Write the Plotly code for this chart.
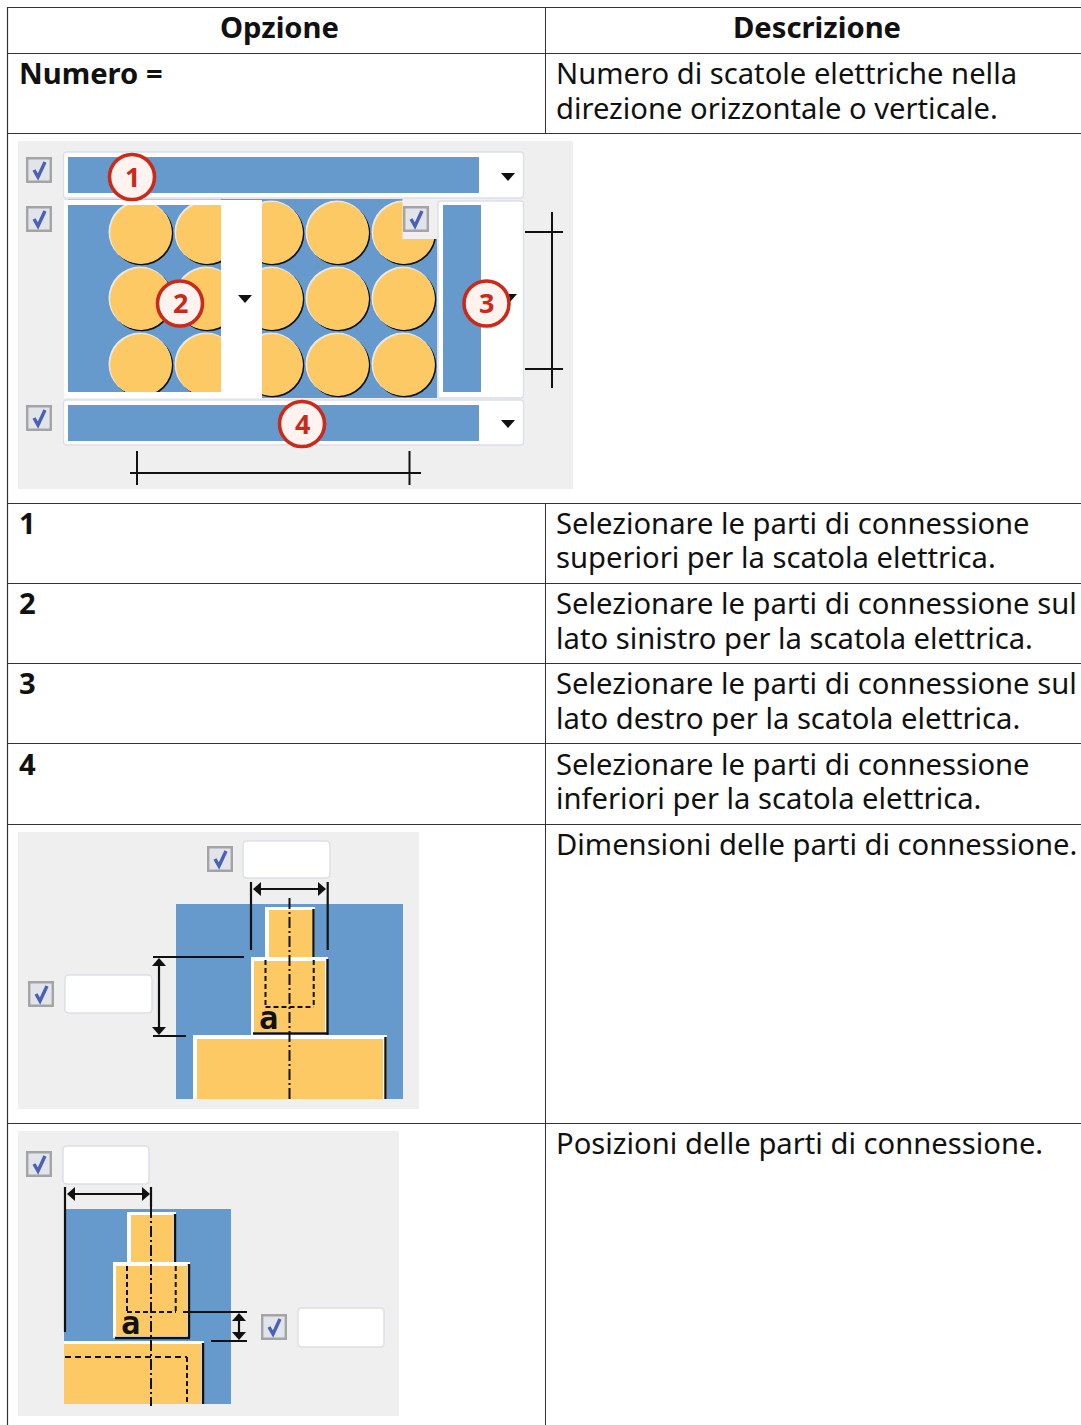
import plotly.graph_objects as go

WIDTH, HEIGHT = 1081, 1425
FONT = "Noto Sans"
FS = 29.2

# ---- text ----
header_labels = ["Opzione", "Descrizione"]
header_x = [279, 817]
header_y = 27
option_labels = ["Numero =", "1", "2", "3", "4"]
option_y = [73, 523, 603, 683, 764]
desc_lines = [
    ("Numero di scatole elettriche nella", 73),
    ("direzione orizzontale o verticale.", 107.5),
    ("Selezionare le parti di connessione", 523),
    ("superiori per la scatola elettrica.", 557),
    ("Selezionare le parti di connessione sul", 603),
    ("lato sinistro per la scatola elettrica.", 638),
    ("Selezionare le parti di connessione sul", 683),
    ("lato destro per la scatola elettrica.", 718),
    ("Selezionare le parti di connessione", 764),
    ("inferiori per la scatola elettrica.", 798),
    ("Dimensioni delle parti di connessione.", 844),
    ("Posizioni delle parti di connessione.", 1143),
]

# ---- table grid ----
row_lines = [7.5, 53.5, 133.5, 503.5, 583.5, 663.5, 743.5, 824.5, 1123.5]
col_left = 7.5
col_split = 545.5
split_spans = [(7.5, 133.5), (503.5, 1425)]

# ---- colours ----
BLUE = "#6699cc"
ORANGE = "#fdc964"
GREY = "#efefef"
RED = "#c92a1a"
LINE = "#333333"

# ---- figure 1 ----
circle_cols = [141, 207, 272, 338, 404]
circle_rows = [233, 299, 365]
circle_r = 31.5
callouts = [("1", 132, 177), ("2", 180, 303.5), ("3", 486.5, 303.5), ("4", 302, 424)]
carets_1 = [(508, 177), (245, 299), (510, 298), (508, 424)]
checks_1 = [(26, 157), (26, 206), (26, 405)]

# ---- figure 2 ----
checks_2 = [(207, 846), (28, 981)]
inputs_2 = [(243, 841, 330, 878), (65, 975, 152, 1013)]
# ---- figure 3 ----
checks_3 = [(26, 1151), (261, 1314)]
inputs_3 = [(63, 1146, 149, 1184), (298, 1308, 384, 1347)]

shapes = []
annots = []


def rect(x0, y0, x1, y1, fill, line=None, lw=1):
    shapes.append(dict(type="rect", x0=x0, y0=y0, x1=x1, y1=y1, fillcolor=fill,
                       line=dict(color=line or fill, width=lw if line else 0)))


def seg(x0, y0, x1, y1, color="#111111", w=2.2, dash=None):
    ln = dict(color=color, width=w)
    if dash:
        ln["dash"] = dash
    shapes.append(dict(type="line", x0=x0, y0=y0, x1=x1, y1=y1, line=ln))


def poly(pts, fill, line=None, lw=0):
    d = "M" + " L".join(f"{x},{y}" for x, y in pts) + " Z"
    shapes.append(dict(type="path", path=d, fillcolor=fill,
                       line=dict(color=line or fill, width=lw)))


def rrect(x0, y0, x1, y1, r=3, fill="white", line="#dcdfe8", lw=1.4):
    d = (f"M{x0+r},{y0} L{x1-r},{y0} Q{x1},{y0} {x1},{y0+r} L{x1},{y1-r} Q{x1},{y1} {x1-r},{y1} "
         f"L{x0+r},{y1} Q{x0},{y1} {x0},{y1-r} L{x0},{y0+r} Q{x0},{y0} {x0+r},{y0} Z")
    shapes.append(dict(type="path", path=d, fillcolor=fill, line=dict(color=line, width=lw)))


def circle(cx, cy, r, fill, line=None, lw=0):
    shapes.append(dict(type="circle", x0=cx-r, y0=cy-r, x1=cx+r, y1=cy+r, fillcolor=fill,
                       line=dict(color=line or fill, width=lw)))


def checkbox(x, y, s=26):
    rect(x+1.2, y+1.2, x+s-1.2, y+s-1.2, "#e2e4ec", "#a4a4a4", 2.4)
    shapes.append(dict(type="path",
                       path=f"M{x+8},{y+13} L{x+12},{y+20} L{x+19},{y+5}",
                       line=dict(color="#4a62b4", width=3.4)))


def caret(cx, cy):
    poly([(cx-7, cy-4), (cx+7, cy-4), (cx, cy+4)], "#111111")


def arrow_h(x0, x1, y):
    seg(x0+4, y, x1-4, y, w=2.2)
    poly([(x0, y), (x0+8, y-7), (x0+8, y+7)], "#111111")
    poly([(x1, y), (x1-8, y-7), (x1-8, y+7)], "#111111")


def arrow_v(x, y0, y1):
    seg(x, y0+4, x, y1-4, w=2.2)
    poly([(x, y0), (x-7, y0+8), (x+7, y0+8)], "#111111")
    poly([(x, y1), (x-7, y1-8), (x+7, y1-8)], "#111111")


def step(white, orange, right_x, bottom=None):
    rect(*white, "white")
    rect(*orange, ORANGE)
    seg(right_x, white[1]+2, right_x, white[3], w=2.4)
    if bottom:
        seg(bottom[0], bottom[2], bottom[1], bottom[2], w=2.4)


# ---- grid ----
for y in row_lines:
    seg(col_left, y, WIDTH, y, LINE, 1.2)
seg(col_left, 7, col_left, HEIGHT, LINE, 1.2)
for y0, y1 in split_spans:
    seg(col_split, y0, col_split, y1, LINE, 1)

# ---- figure 1 ----
rect(18, 141, 573, 489, GREY)
rrect(63.5, 152, 523.5, 198)
rrect(438, 201, 523.5, 398)
rrect(63.5, 400, 523.5, 445)
rect(68, 157, 479, 193, BLUE)
rect(68, 405, 479, 441, BLUE)
rect(443, 205, 481, 392, BLUE)
rect(64, 199, 437, 398, BLUE)
for cy in circle_rows:
    for cx in circle_cols:
        circle(cx+0.8, cy+0.8, circle_r, "#111111")
        circle(cx-1, cy-1, circle_r, "#e8e8e8")
        circle(cx, cy, circle_r-0.6, ORANGE)
# dropdown 2 frame drawn over the circles
rect(221, 200, 262, 398, "white")
rect(64, 199.5, 221, 205, "white")
rect(64, 392, 221, 398, "white")
rect(64, 199.5, 68, 398, "white")
rect(402.5, 199, 437, 239, GREY)
for c in carets_1:
    caret(*c)
for c in checks_1:
    checkbox(*c)
checkbox(403, 206)
# dimension lines
seg(552, 212, 552, 388, w=2)
seg(525, 232, 563, 232, w=2)
seg(525, 369, 563, 369, w=2)
seg(130, 473, 421, 473, w=2)
seg(137, 451, 137, 485, w=2)
seg(409.5, 451, 409.5, 485, w=2)
for t, cx, cy in callouts:
    circle(cx, cy, 22.5, "#fff3ef", RED, 3.6)
    annots.append(dict(text=f"<b>{t}</b>", x=cx, y=cy-1, size=27, color=RED, xanchor="center"))

# ---- figure 2 ----
rect(18, 832, 419, 1109, GREY)
rect(176, 904, 403, 1099, BLUE)
step((265, 907, 315, 958), (269, 910, 312, 958), 313.5)
step((251, 957, 328, 1035), (254, 961, 325, 1032), 327.5, (253, 328, 1033.5))
step((193, 1035, 387, 1099), (197, 1039, 383, 1099), 385.5)
seg(265.5, 960, 265.5, 1007, w=2, dash="5px,3px")
seg(313.7, 960, 313.7, 1007, w=2, dash="5px,3px")
seg(265.5, 1007, 313.7, 1007, w=2, dash="5px,3px")
seg(289.5, 898, 289.5, 1101, w=2, dash="11px,3px,2px,3px")
seg(251, 882, 251, 950)
seg(327.7, 882, 327.7, 950)
arrow_h(253, 326, 889)
seg(153, 957, 244, 957)
seg(153, 1036, 186, 1036)
arrow_v(159, 958, 1035)
for c in checks_2:
    checkbox(*c)
for b in inputs_2:
    rrect(*b, r=4)
annots.append(dict(text="<b>a</b>", x=268, y=1018, size=32, color="#111111", xanchor="center",
                   family="DejaVu Sans Mono"))

# ---- figure 3 ----
rect(18, 1131, 399, 1416, GREY)
rect(64, 1209, 231, 1404, BLUE)
step((127, 1212, 176, 1262), (131, 1215, 173, 1262), 175)
step((113, 1262, 190, 1338), (116, 1266, 187, 1336), 189, (115, 190, 1338))
step((64, 1341, 204, 1404), (64, 1344, 201, 1404), 203)
seg(127, 1266, 127, 1312, w=2, dash="5px,3px")
seg(175.7, 1266, 175.7, 1312, w=2, dash="5px,3px")
seg(127, 1312, 176, 1312, w=2, dash="5px,3px")
seg(65, 1357, 187, 1357, w=2, dash="6px,4px")
seg(187, 1357, 187, 1403, w=2, dash="5px,3px")
seg(151, 1207, 151, 1406, w=2, dash="11px,3px,2px,3px")
seg(151, 1187, 151, 1207)
seg(65, 1187, 65, 1332)
arrow_h(67, 150, 1194)
seg(183, 1312, 247, 1312)
seg(211, 1341, 247, 1341)
arrow_v(239, 1313, 1340)
for c in checks_3:
    checkbox(*c)
for b in inputs_3:
    rrect(*b, r=4)
annots.append(dict(text="<b>a</b>", x=130, y=1323, size=32, color="#111111", xanchor="center",
                   family="DejaVu Sans Mono"))

# ---- table text ----
for t, x in zip(header_labels, header_x):
    annots.append(dict(text=f"<b>{t}</b>", x=x, y=header_y, size=FS, color="#111111", xanchor="center"))
for t, y in zip(option_labels, option_y):
    annots.append(dict(text=f"<b>{t}</b>", x=18.5, y=y, size=FS, color="#111111", xanchor="left"))
for t, y in desc_lines:
    annots.append(dict(text=t, x=556, y=y, size=FS, color="#111111", xanchor="left"))

annotations = [
    dict(text=a["text"], x=a["x"], y=a["y"], xref="x", yref="y", showarrow=False,
         xanchor=a["xanchor"], yanchor="middle", borderpad=0, borderwidth=0,
         font=dict(family=a.get("family", FONT), size=a["size"], color=a["color"]))
    for a in annots
]

fig = go.Figure()
fig.update_layout(
    width=WIDTH, height=HEIGHT, margin=dict(l=0, r=0, t=0, b=0),
    paper_bgcolor="white", plot_bgcolor="white", showlegend=False,
    xaxis=dict(range=[0, WIDTH], visible=False, fixedrange=True),
    yaxis=dict(range=[HEIGHT, 0], visible=False, fixedrange=True),
    shapes=shapes, annotations=annotations,
)
fig.write_html("out.html", config={"displayModeBar": False},
               post_script="document.body.style.margin='0';document.body.style.overflow='hidden';")
